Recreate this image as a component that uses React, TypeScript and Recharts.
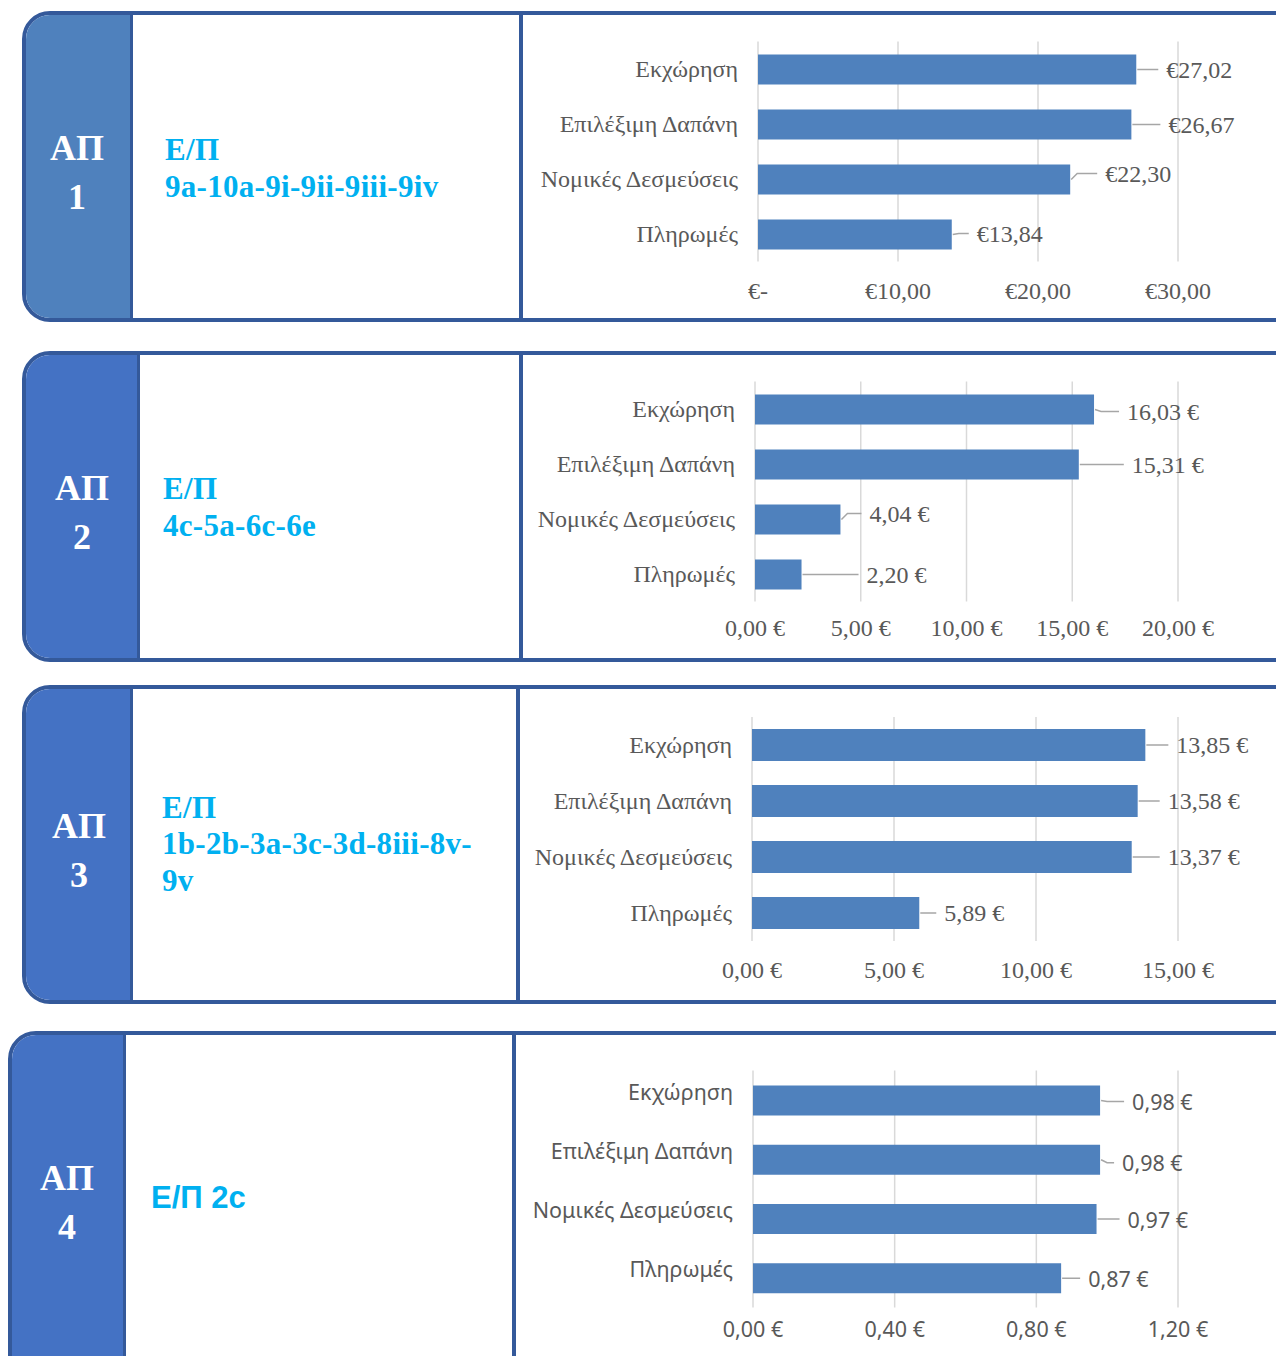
import React from 'react';
import { BarChart, Bar, XAxis, YAxis, CartesianGrid, LabelList } from 'recharts';

const CATEGORIES = ['Εκχώρηση', 'Επιλέξιμη Δαπάνη', 'Νομικές Δεσμεύσεις', 'Πληρωμές'];

const AP1_VALUES = [27.02, 26.67, 22.3, 13.84];
const AP2_VALUES = [16.03, 15.31, 4.04, 2.2];
const AP3_VALUES = [13.85, 13.58, 13.37, 5.89];
const AP4_VALUES = [0.98, 0.98, 0.97, 0.87];

const AP1_TICKS = [0, 10, 20, 30];
const AP2_TICKS = [0, 5, 10, 15, 20];
const AP3_TICKS = [0, 5, 10, 15];
const AP4_TICKS = [0, 0.4, 0.8, 1.2];

const AP1_CODES = ['Ε/Π', '9a-10a-9i-9ii-9iii-9iv'];
const AP2_CODES = ['Ε/Π', '4c-5a-6c-6e'];
const AP3_CODES = ['Ε/Π', '1b-2b-3a-3c-3d-8iii-8v-', '9v'];
const AP4_CODES = ['Ε/Π 2c'];

// label placement (manually moved in the original)
const AP1_LABEL_DX = [30, 37, 35, 25];
const AP1_LABEL_DY = [0, 0, -6, -1];
const AP2_LABEL_DX = [33, 53, 29, 65];
const AP2_LABEL_DY = [2, 0, -6, 0];
const AP3_LABEL_DX = [31, 30, 36, 25];
const AP3_LABEL_DY = [0, 0, 0, 0];
const AP4_LABEL_DX = [32, 22, 31, 27];
const AP4_LABEL_DY = [1, 3, 0, 0];

const BAR = '#4f81bd';
const FRAME = '#34599a';
const GREY = '#595959';
const SERIF = '"Liberation Serif", "Times New Roman", serif';
const SANS = '"Noto Sans", "Liberation Sans", sans-serif';

const euroPrefix = (v: number) => (v === 0 ? '€-' : '€' + v.toFixed(2).replace('.', ','));
const euroSuffix = (v: number) => v.toFixed(2).replace('.', ',') + ' €';

type Box = { left: number; top: number; width: number; height: number; plotLeft: number; plotRight: number; plotTop: number; plotBottom: number; labelY: number };

type ChartProps = {
  values: number[];
  ticks: number[];
  fmt: (v: number) => string;
  dxs: number[];
  dys: number[];
  box: Box;
  font: string;
  fontSize: number;
  catDy: number;
  barSize: number;
};

function MiniChart({ values, ticks, fmt, dxs, dys, box, font, fontSize, catDy, barSize }: ChartProps) {
  const data = CATEGORIES.map((name, i) => ({ name, value: values[i] }));
  const max = ticks[ticks.length - 1];
  const yw = box.plotLeft - box.left;
  const xh = box.top + box.height - box.plotBottom;

  const renderLabel = (props: any) => {
    const { x, y, width, height, value, index } = props;
    const i = index ?? 0;
    const x0 = Number(x) + Number(width);
    const cy = Number(y) + Number(height) / 2;
    const dx = dxs[i] ?? 28;
    const dy = dys[i] ?? 0;
    const tx = x0 + dx;
    const ty = cy + dy;
    return (
      <g>
        <polyline
          points={`${x0 + 1},${cy} ${x0 + 7},${ty} ${tx - 8},${ty}`}
          fill="none"
          stroke="#a6a6a6"
          strokeWidth={1.5}
        />
        <text x={tx} y={ty} dominantBaseline="central" fill={GREY} fontSize={fontSize} fontFamily={font}>
          {fmt(Number(value))}
        </text>
      </g>
    );
  };

  return (
    <div style={{ position: 'absolute', left: box.left, top: box.top }}>
      <BarChart
        width={box.width}
        height={box.height}
        data={data}
        layout="vertical"
        margin={{ top: box.plotTop - box.top, right: box.width - (box.plotRight - box.left), left: 0, bottom: 0 }}
      >
        <CartesianGrid horizontal={false} stroke="#d9d9d9" strokeWidth={1.5} />
        <XAxis
          type="number"
          domain={[0, max]}
          ticks={ticks}
          allowDataOverflow
          axisLine={false}
          tickLine={false}
          tickSize={0}
          height={xh}
          interval={0}
          tick={({ x, payload }: any) => (
            <text
              x={x}
              y={box.labelY - box.top}
              textAnchor="middle"
              dominantBaseline="central"
              fill={GREY}
              fontSize={fontSize}
              fontFamily={font}
            >
              {fmt(Number(payload.value))}
            </text>
          )}
        />
        <YAxis
          type="category"
          dataKey="name"
          width={yw}
          axisLine={false}
          tickLine={false}
          tickSize={0}
          tickMargin={20}
          interval={0}
          tick={({ x, y, payload }: any) => (
            <text x={x} y={Number(y) + catDy} textAnchor="end" dominantBaseline="central" fill={GREY} fontSize={fontSize} fontFamily={font}>
              {payload.value}
            </text>
          )}
        />
        <Bar dataKey="value" fill={BAR} barSize={barSize} isAnimationActive={false}>
          <LabelList dataKey="value" content={renderLabel} />
        </Bar>
      </BarChart>
    </div>
  );
}

type FrameProps = {
  left: number;
  top: number;
  height: number;
  blueRight: number;
  midRight: number;
  blue: string;
  apNum: string;
  apCenterX: number;
  apTop: number;
  codes: string[];
  codeLeft: number;
  codeTop: number;
  codeFont: string;
  codeSize: number;
  codeLine: number;
  codeSpacing: number;
};

function Frame(p: FrameProps) {
  return (
    <>
      <div
        style={{
          position: 'absolute',
          left: p.left,
          top: p.top,
          width: 1300 - p.left,
          height: p.height,
          border: `4px solid ${FRAME}`,
          borderRadius: '28px 0 0 28px',
          boxSizing: 'border-box',
          background: '#fff',
          overflow: 'hidden',
        }}
      >
        <div
          style={{
            position: 'absolute',
            left: 0,
            top: 0,
            bottom: 0,
            width: p.blueRight - p.left - 4,
            background: p.blue,
            borderRight: `3px solid ${FRAME}`,
            boxSizing: 'border-box',
          }}
        />
        <div
          style={{
            position: 'absolute',
            left: p.midRight - p.left - 6,
            top: 0,
            bottom: 0,
            width: 4,
            background: FRAME,
          }}
        />
      </div>
      <div
        style={{
          position: 'absolute',
          left: p.apCenterX - 50,
          width: 100,
          top: p.apTop,
          textAlign: 'center',
          color: '#fff',
          fontFamily: SERIF,
          fontWeight: 'bold',
          fontSize: 36,
          lineHeight: '49px',
        }}
      >
        <div>ΑΠ</div>
        <div>{p.apNum}</div>
      </div>
      <div
        style={{
          position: 'absolute',
          left: p.codeLeft,
          top: p.codeTop,
          color: '#00b0f0',
          fontFamily: p.codeFont,
          fontWeight: 'bold',
          fontSize: p.codeSize,
          letterSpacing: p.codeSpacing,
          lineHeight: `${p.codeLine}px`,
          whiteSpace: 'nowrap',
        }}
      >
        {p.codes.map((c) => (
          <div key={c}>{c}</div>
        ))}
      </div>
    </>
  );
}

export default function App() {
  return (
    <div style={{ position: 'absolute', left: 0, top: 0, width: 1276, height: 1356, overflow: 'hidden', background: '#fff' }}>
      <Frame left={22} top={11} height={311} blueRight={133} midRight={521} blue="#4f81bd" apNum="1" apCenterX={77} apTop={148 - 24.5}
        codes={AP1_CODES} codeLeft={165} codeTop={149 - 18.5} codeFont={SERIF} codeSize={31} codeLine={37} codeSpacing={0.3} />
      <Frame left={22} top={351} height={311} blueRight={140} midRight={521} blue="#4472c4" apNum="2" apCenterX={82} apTop={488 - 24.5}
        codes={AP2_CODES} codeLeft={163} codeTop={488 - 18.5} codeFont={SERIF} codeSize={31} codeLine={37} codeSpacing={0.3} />
      <Frame left={22} top={685} height={319} blueRight={133} midRight={518} blue="#4472c4" apNum="3" apCenterX={79} apTop={826 - 24.5}
        codes={AP3_CODES} codeLeft={162} codeTop={808 - 18.5} codeFont={SERIF} codeSize={31} codeLine={36.5} codeSpacing={0.3} />
      <Frame left={8} top={1031} height={360} blueRight={126} midRight={514} blue="#4472c4" apNum="4" apCenterX={67} apTop={1178 - 24.5}
        codes={AP4_CODES} codeLeft={151} codeTop={1197 - 18.5} codeFont='"Liberation Sans", Arial, sans-serif' codeSize={31} codeLine={37} codeSpacing={0} />

      <MiniChart values={AP1_VALUES} ticks={AP1_TICKS} fmt={euroPrefix} dxs={AP1_LABEL_DX} dys={AP1_LABEL_DY}
        box={{ left: 525, top: 20, width: 751, height: 295, plotLeft: 758, plotRight: 1178, plotTop: 41.5, plotBottom: 261.5, labelY: 291 }}
        font={SERIF} fontSize={24} catDy={0} barSize={30} />
      <MiniChart values={AP2_VALUES} ticks={AP2_TICKS} fmt={euroSuffix} dxs={AP2_LABEL_DX} dys={AP2_LABEL_DY}
        box={{ left: 525, top: 360, width: 751, height: 295, plotLeft: 755, plotRight: 1178, plotTop: 381.5, plotBottom: 601.5, labelY: 628 }}
        font={SERIF} fontSize={24} catDy={0} barSize={30} />
      <MiniChart values={AP3_VALUES} ticks={AP3_TICKS} fmt={euroSuffix} dxs={AP3_LABEL_DX} dys={AP3_LABEL_DY}
        box={{ left: 522, top: 695, width: 754, height: 300, plotLeft: 752, plotRight: 1178, plotTop: 717, plotBottom: 941, labelY: 970 }}
        font={SERIF} fontSize={24} catDy={0} barSize={32} />
      <MiniChart values={AP4_VALUES} ticks={AP4_TICKS} fmt={euroSuffix} dxs={AP4_LABEL_DX} dys={AP4_LABEL_DY}
        box={{ left: 518, top: 1040, width: 758, height: 310, plotLeft: 753, plotRight: 1178, plotTop: 1070.5, plotBottom: 1307.5, labelY: 1328 }}
        font={SANS} fontSize={21.5} catDy={-9} barSize={30} />
    </div>
  );
}
